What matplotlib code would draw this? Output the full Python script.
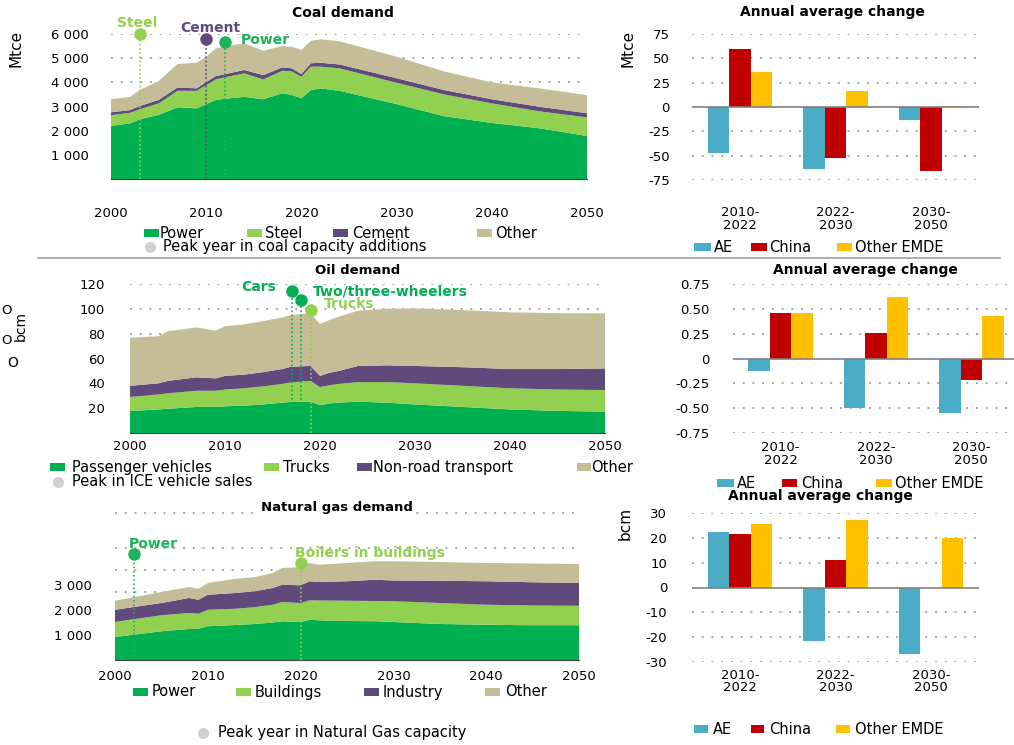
import matplotlib
matplotlib.use('Agg')
import matplotlib.pyplot as plt
from matplotlib.patches import Rectangle
from matplotlib.lines import Line2D
import numpy as np

# ---------------- data ----------------
coal_years = [2000, 2002, 2003, 2005, 2007, 2009, 2010, 2011, 2012, 2014, 2016,
              2018, 2019, 2020, 2021, 2022, 2024, 2030, 2035, 2040, 2045, 2050]
coal_power = [2200, 2300, 2470, 2650, 2970, 2920, 3100, 3270, 3320, 3400, 3300,
              3550, 3480, 3340, 3680, 3750, 3650, 3100, 2600, 2320, 2100, 1780]
coal_steel = [440, 440, 410, 480, 680, 730, 780, 850, 890, 970, 820,
              930, 970, 890, 970, 900, 930, 880, 900, 810, 700, 770]
coal_cement = [120, 110, 140, 140, 140, 100, 130, 140, 130, 140, 180,
               140, 130, 110, 140, 160, 160, 190, 180, 170, 190, 170]
coal_other = [540, 550, 660, 780, 970, 1060, 1050, 1140, 1160, 1100, 1010,
              880, 890, 1000, 930, 970, 960, 890, 770, 700, 760, 750]
coal_peak_names = ['Steel', 'Cement', 'Power']
coal_peak_years = [2003, 2010, 2012]
coal_peak_vals = [6000, 5780, 5680]

oil_years = [2000, 2003, 2004, 2007, 2009, 2010, 2012, 2014, 2016, 2017, 2019,
             2020, 2021, 2022, 2024, 2027, 2030, 2035, 2040, 2045, 2050]
oil_pv = [17.7, 19, 19.5, 21, 21, 21.5, 22, 23, 24.5, 25, 25.2,
          22.5, 23.8, 24.5, 25.2, 24.5, 23, 21, 19, 17.8, 17.2]
oil_trucks = [11.3, 12, 12.5, 13, 13, 13.5, 14, 14.5, 15, 15.8, 16.8,
              14.5, 14.7, 15, 15.8, 16.5, 17, 17, 17, 17.2, 17.4]
oil_nonroad = [9, 9, 10, 10.8, 10, 11, 11, 11.5, 12, 12.6, 12,
               9, 10, 10.5, 13, 13.5, 14, 15, 15.5, 16.5, 17.4]
oil_other = [38.7, 38, 40, 40.2, 38.4, 40, 40.5, 41, 41.5, 41.6, 42.4,
             41.8, 42.5, 43.7, 44.5, 45.5, 46.4, 46, 45.7, 45, 44.4]
oil_peak_names = ['Cars', 'Two/three-wheelers', 'Trucks']
oil_peak_years = [2017, 2018, 2019]
oil_peak_vals = [114, 107, 99]

gas_years = [2000, 2005, 2008, 2009, 2010, 2013, 2015, 2017, 2018, 2020, 2021,
             2022, 2025, 2028, 2030, 2035, 2040, 2045, 2050]
gas_power = [920, 1150, 1240, 1250, 1350, 1400, 1440, 1500, 1550, 1520, 1610,
             1590, 1560, 1550, 1520, 1440, 1410, 1390, 1390]
gas_buildings = [600, 640, 640, 600, 660, 650, 670, 710, 770, 760, 780,
                 790, 810, 810, 830, 840, 800, 790, 780]
gas_industry = [490, 490, 600, 560, 600, 630, 640, 670, 690, 710, 760,
                740, 780, 850, 830, 890, 940, 930, 910]
gas_other = [360, 440, 440, 440, 470, 570, 560, 600, 670, 720, 730,
             690, 730, 740, 770, 750, 730, 750, 760]
gas_grid = [2720, 3600, 4480, 5880]
gas_peak_names = ['Power', 'Boilers in buildings']
gas_peak_years = [2002, 2020]
gas_peak_vals = [4240, 3880]

periods = ['2010-\n2022', '2022-\n2030', '2030-\n2050']
coal_ae = [-47, -63.5, -13.5]
coal_china = [60, -52.5, -66]
coal_emde = [35.5, 16, 1.5]
oil_ae = [-0.13, -0.50, -0.55]
oil_china = [0.46, 0.26, -0.22]
oil_emde = [0.46, 0.62, 0.43]
gas_ae = [22.2, -21.6, -26.8]
gas_china = [21.4, 11.0, -0.3]
gas_emde = [25.6, 27.0, 19.9]

# ---------------- style ----------------
DKGREEN = '#00b050'
LTGREEN = '#92d050'
PURPLE = '#604a7b'
TAN = '#c4bd97'
AE_C = '#4bacc6'
CN_C = '#c00000'
EM_C = '#ffc000'
GRID = '#a6a6a6'
PEAK = '#d0d0d0'

plt.rcParams['font.family'] = ['DejaVu Sans']
W, H = 1014, 745
fig = plt.figure(figsize=(W / 100, H / 100), dpi=100)


def box(l, t, r, b):
    return [l / W, 1 - b / H, (r - l) / W, (b - t) / H]


def ftext(x, y, s, **kw):
    kw.setdefault('va', 'center')
    fig.text(x / W, 1 - y / H, s, **kw)


def swatch(x, y, color, w=15, h=8):
    fig.add_artist(Rectangle((x / W, 1 - (y + h / 2) / H), w / W, h / H,
                             transform=fig.transFigure, color=color, lw=0))


def dot(x, y, color=PEAK, ms=8):
    fig.add_artist(Line2D([x / W], [1 - y / H], transform=fig.transFigure,
                          marker='o', ms=ms, color=color, mec='none', ls='none'))


def area_panel(rect, years, layers, colors, ylim, grid_vals, yticks, ylabels,
               xpad, ypad):
    ax = fig.add_axes(box(*rect))
    for g in grid_vals:
        ax.axhline(g, color=GRID, ls=(0, (1, 4)), lw=1.4, zorder=0)
    ax.stackplot(years, *layers, colors=colors, lw=0, zorder=1)
    ax.set_xlim(2000, 2050)
    ax.set_ylim(*ylim)
    ax.set_xticks([2000, 2010, 2020, 2030, 2040, 2050])
    ax.set_yticks(yticks)
    ax.set_yticklabels(ylabels)
    ax.tick_params(length=0, labelsize=9.5)
    ax.tick_params(axis='x', pad=xpad)
    ax.tick_params(axis='y', pad=ypad)
    for s in ['top', 'right', 'left']:
        ax.spines[s].set_visible(False)
    ax.spines['bottom'].set_color('#404040')
    ax.spines['bottom'].set_linewidth(0.8)
    ax.patch.set_alpha(0)
    return ax


def peaks(ax, names, years, vals, colors, offsets):
    for n, yr, v, c, (dx, dy, ha) in zip(names, years, vals, colors, offsets):
        ax.plot([yr, yr], [0, v], color=c, ls=(0, (1, 1.5)), lw=1.2, zorder=3)
        ax.plot(yr, v, 'o', color=c, ms=9, mec='none', clip_on=False, zorder=4)
        ax.annotate(n, (yr, v), xytext=(dx, dy), textcoords='offset points',
                    ha=ha, va='center', color=c, fontsize=10, fontweight='bold',
                    annotation_clip=False)


def bar_panel(rect, ae, china, emde, ylim, yticks, ylabels, xpad, ypad):
    ax = fig.add_axes(box(*rect))
    x = np.arange(len(periods))
    w = 0.225
    for t in yticks:
        if t != 0:
            ax.axhline(t, color=GRID, ls=(0, (1, 4)), lw=1.4, zorder=0)
    ax.bar(x - w, ae, w, color=AE_C, zorder=2)
    ax.bar(x, china, w, color=CN_C, zorder=2)
    ax.bar(x + w, emde, w, color=EM_C, zorder=2)
    ax.axhline(0, color='#808080', lw=1.2, zorder=3)
    ax.set_xlim(-0.5, 2.5)
    ax.set_ylim(*ylim)
    ax.set_xticks(x)
    ax.set_xticklabels(periods, linespacing=0.95)
    ax.set_yticks(yticks)
    ax.set_yticklabels(ylabels)
    ax.tick_params(length=0, labelsize=9.5)
    ax.tick_params(axis='x', pad=xpad)
    ax.tick_params(axis='y', pad=ypad)
    for s in ax.spines.values():
        s.set_visible(False)
    ax.patch.set_alpha(0)
    return ax


narrow = ['Liberation Sans Narrow', 'DejaVu Sans']

# ---------------- coal ----------------
ax = area_panel((111, 34, 587, 179), coal_years,
                [coal_power, coal_steel, coal_cement, coal_other],
                [DKGREEN, LTGREEN, PURPLE, TAN], (0, 6000),
                [4000, 5000, 6000], [1000, 2000, 3000, 4000, 5000, 6000],
                ['1 000', '2 000', '3 000', '4 000', '5 000', '6 000'], 20, 16)
peaks(ax, coal_peak_names, coal_peak_years, coal_peak_vals,
      [LTGREEN, PURPLE, '#1db35a'],
      [(-1.5, 8, 'center'), (3, 8.5, 'center'), (11, 1, 'left')])
ftext(343, 13, 'Coal demand', ha='center', fontsize=10, fontweight='bold')
ftext(16, 48, 'Mtce', rotation=90, ha='center', fontsize=11, family=narrow)

swatch(144, 233, DKGREEN); ftext(160, 233, 'Power', fontsize=10.5)
swatch(247, 233, LTGREEN); ftext(265, 233, 'Steel', fontsize=10.5)
swatch(333, 233, PURPLE); ftext(352, 233, 'Cement', fontsize=10.5)
swatch(477, 233, TAN); ftext(495, 233, 'Other', fontsize=10.5)
dot(150, 247); ftext(163, 247, 'Peak year in coal capacity additions', fontsize=10.5)

bar_panel((692, 34, 979, 180), coal_ae, coal_china, coal_emde, (-75, 75),
          [-75, -50, -25, 0, 25, 50, 75],
          ['-75', '-50', '-25', '0', '25', '50', '75'], 19, 16)
ftext(832, 12, 'Annual average change', ha='center', fontsize=10, fontweight='bold')
ftext(628, 48, 'Mtce', rotation=90, ha='center', fontsize=11, family=narrow)
swatch(694, 247, AE_C, w=17); ftext(714, 247, 'AE', fontsize=10.5)
swatch(751, 247, CN_C, w=16); ftext(769, 247, 'China', fontsize=10.5)
swatch(837, 247, EM_C, w=15); ftext(855, 247, 'Other EMDE', fontsize=10.5)

fig.add_artist(Line2D([38 / W, 1000 / W], [1 - 258 / H] * 2, color='#a0a0a0', lw=1.2))

# ---------------- oil ----------------
ax = area_panel((130, 284, 605, 433), oil_years,
                [oil_pv, oil_trucks, oil_nonroad, oil_other],
                [DKGREEN, LTGREEN, PURPLE, TAN], (0, 120),
                [80, 100, 120], [20, 40, 60, 80, 100, 120],
                ['20', '40', '60', '80', '100', '120'], 5, 18)
peaks(ax, oil_peak_names, oil_peak_years, oil_peak_vals,
      [DKGREEN, DKGREEN, LTGREEN],
      [(-11, 3, 'right'), (8.5, 6.5, 'left'), (9.5, 4.3, 'left')])
ftext(358, 271, 'Oil demand', ha='center', fontsize=9.5, fontweight='bold')
ftext(21, 326, 'bcm', rotation=90, ha='center', fontsize=10, family=narrow)
ftext(7, 310, 'O', ha='center', fontsize=9.5)
ftext(7, 340, 'O', ha='center', fontsize=9.5)
ftext(13, 363, 'O', ha='center', fontsize=10)

swatch(50, 467, DKGREEN); ftext(72, 467, 'Passenger vehicles', fontsize=10.5)
swatch(264, 467, LTGREEN); ftext(283, 467, 'Trucks', fontsize=10.5)
swatch(357, 467, PURPLE); ftext(373, 467, 'Non-road transport', fontsize=10.5)
swatch(577, 467, TAN, w=14); ftext(591, 467, 'Other', fontsize=10.5)
dot(58, 482); ftext(72, 482, 'Peak in ICE vehicle sales', fontsize=10.5)

bar_panel((733, 284, 1019, 433), oil_ae, oil_china, oil_emde, (-0.75, 0.75),
          [-0.75, -0.5, -0.25, 0, 0.25, 0.5, 0.75],
          ['-0.75', '-0.50', '-0.25', '0', '0.25', '0.50', '0.75'], 6, 17)
ftext(865, 270, 'Annual average change', ha='center', fontsize=10, fontweight='bold')
swatch(717, 483, AE_C, w=17); ftext(737, 483, 'AE', fontsize=10.5)
swatch(782, 483, CN_C, w=15); ftext(801, 483, 'China', fontsize=10.5)
swatch(876, 483, EM_C, w=16); ftext(895, 483, 'Other EMDE', fontsize=10.5)

# ---------------- natural gas ----------------
ax = area_panel((115, 510, 579, 660), gas_years,
                [gas_power, gas_buildings, gas_industry, gas_other],
                [DKGREEN, LTGREEN, PURPLE, TAN], (0, 6000),
                gas_grid, [1000, 2000, 3000], ['1 000', '2 000', '3 000'], 7, 17)
peaks(ax, gas_peak_names, gas_peak_years, gas_peak_vals,
      ['#1db35a', LTGREEN],
      [(-3.6, 7, 'left'), (-4.3, 7, 'left')])
ftext(337, 508, 'Natural gas demand', ha='center', fontsize=9.5, fontweight='bold',
      bbox=dict(facecolor='white', edgecolor='none', pad=1))

swatch(133, 692, DKGREEN); ftext(152, 692, 'Power', fontsize=10.5)
swatch(236, 692, LTGREEN); ftext(255, 692, 'Buildings', fontsize=10.5)
swatch(364, 692, PURPLE); ftext(383, 692, 'Industry', fontsize=10.5)
swatch(485, 692, TAN); ftext(505, 692, 'Other', fontsize=10.5)
dot(203, 733); ftext(218, 733, 'Peak year in Natural Gas capacity', fontsize=10.5)

bar_panel((692, 513, 979, 662), gas_ae, gas_china, gas_emde, (-30, 30),
          [-30, -20, -10, 0, 10, 20, 30],
          ['-30', '-20', '-10', '0', '10', '20', '30'], 5, 18)
ftext(820, 496, 'Annual average change', ha='center', fontsize=10, fontweight='bold')
ftext(625, 523, 'bcm', rotation=90, ha='center', fontsize=11, family=narrow)
swatch(694, 729, AE_C, w=14); ftext(713, 729, 'AE', fontsize=10.5)
swatch(751, 729, CN_C, w=13); ftext(769, 729, 'China', fontsize=10.5)
swatch(836, 729, EM_C, w=14); ftext(855, 729, 'Other EMDE', fontsize=10.5)

fig.savefig('out.png', dpi=100)
